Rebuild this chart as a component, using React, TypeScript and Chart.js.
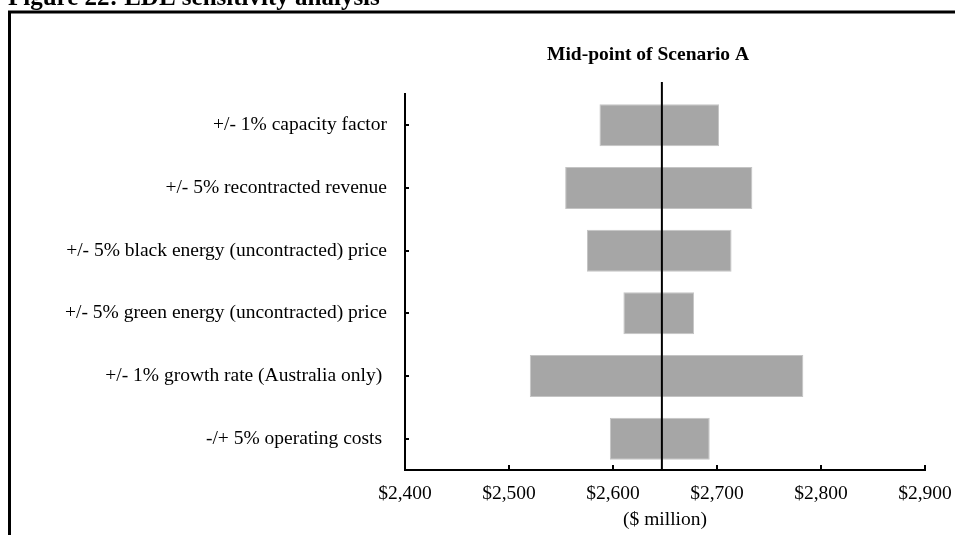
import React, { useEffect, useRef } from 'react';
import { Chart, registerables } from 'chart.js';

Chart.register(...registerables);

const FIGURE_TITLE = 'Figure 22: EDL sensitivity analysis';
const MIDPOINT_LABEL = 'Mid-point of Scenario A';
const X_AXIS_TITLE = '($ million)';

const CATEGORIES = [
  '+/- 1% capacity factor',
  '+/- 5% recontracted revenue',
  '+/- 5% black energy (uncontracted) price',
  '+/- 5% green energy (uncontracted) price',
  '+/- 1% growth rate (Australia only) ',
  '-/+ 5% operating costs ',
];
const LOW_VALUES = [2587, 2554, 2575, 2610, 2520, 2597];
const HIGH_VALUES = [2702, 2734, 2714, 2678, 2783, 2693];
const MIDPOINT = 2647;

const X_MIN = 2400;
const X_MAX = 2900;
const X_STEP = 100;

const FONT = '"Liberation Serif", "Times New Roman", serif';

const overlayPlugin = {
  id: 'overlay',
  beforeDraw(chart: any) {
    const ctx = chart.ctx;
    ctx.save();
    ctx.strokeStyle = '#000';
    ctx.lineWidth = 3;
    ctx.strokeRect(9.5, 12, 3000, 3000);
    ctx.fillStyle = '#000';
    ctx.font = 'bold 25px ' + FONT;
    ctx.textAlign = 'left';
    ctx.textBaseline = 'alphabetic';
    ctx.fillText(FIGURE_TITLE, 8, 5);
    ctx.restore();
  },
  afterDatasetsDraw(chart: any) {
    const ctx = chart.ctx;
    const xs = chart.scales.x;
    const area = chart.chartArea;
    const mx = xs.getPixelForValue(MIDPOINT);
    ctx.save();
    ctx.strokeStyle = '#000';
    ctx.lineWidth = 2;
    ctx.beginPath();
    ctx.moveTo(mx, 82);
    ctx.lineTo(mx, area.bottom);
    ctx.stroke();
    ctx.fillStyle = '#000';
    ctx.font = 'bold 19.5px ' + FONT;
    ctx.textAlign = 'center';
    ctx.textBaseline = 'middle';
    ctx.fillText(MIDPOINT_LABEL, 648, 55);
    ctx.restore();
  },
  afterDraw(chart: any) {
    const ctx = chart.ctx;
    const { x: xs, y: ys } = chart.scales;
    const area = chart.chartArea;
    ctx.save();
    ctx.strokeStyle = '#000';
    ctx.lineWidth = 2;
    ctx.beginPath();
    xs.ticks.forEach((_t: any, i: number) => {
      const px = Math.round(xs.getPixelForTick(i));
      ctx.moveTo(px, area.bottom);
      ctx.lineTo(px, area.bottom - 5);
    });
    ys.ticks.forEach((_t: any, i: number) => {
      const py = Math.round(ys.getPixelForTick(i));
      ctx.moveTo(area.left, py);
      ctx.lineTo(area.left + 4, py);
    });
    ctx.stroke();
    ctx.restore();
  },
};

export default function App() {
  const canvasRef = useRef<HTMLCanvasElement | null>(null);

  useEffect(() => {
    const canvas = canvasRef.current;
    if (!canvas) return;
    const chart = new Chart(canvas, {
      type: 'bar',
      data: {
        labels: CATEGORIES,
        datasets: [
          {
            data: CATEGORIES.map((_, i) => [LOW_VALUES[i], HIGH_VALUES[i]]) as any,
            backgroundColor: '#a6a6a6',
            borderColor: '#c4c4c4',
            borderWidth: 1,
            borderSkipped: false,
            categoryPercentage: 1,
            barPercentage: 0.67,
          },
        ],
      },
      options: {
        indexAxis: 'y',
        responsive: false,
        animation: false,
        devicePixelRatio: 1,
        layout: { padding: { left: 0, top: 94, right: 30, bottom: 0 } },
        plugins: {
          legend: { display: false },
          tooltip: { enabled: false },
          title: { display: false },
        },
        scales: {
          x: {
            type: 'linear',
            min: X_MIN,
            max: X_MAX,
            grid: { display: false, drawTicks: false },
            border: { display: true, color: '#000', width: 2 },
            ticks: {
              stepSize: X_STEP,
              padding: 12,
              color: '#000',
              font: { family: FONT, size: 19.5 },
              callback: (v: any) => '$' + Number(v).toLocaleString('en-US'),
            },
            title: {
              display: true,
              text: X_AXIS_TITLE,
              color: '#000',
              font: { family: FONT, size: 19.5 },
              padding: { top: 0, bottom: 3 },
            },
            afterFit: (scale: any) => {
              scale.height = 65;
              scale.paddingLeft = 0;
              scale.paddingRight = 0;
            },
          },
          y: {
            type: 'category',
            grid: { display: false, drawTicks: false },
            border: { display: true, color: '#000', width: 2 },
            ticks: {
              padding: 18,
              color: '#000',
              font: { family: FONT, size: 19.5 },
            },
            afterFit: (scale: any) => {
              scale.width = 405;
              scale.paddingTop = 0;
              scale.paddingBottom = 0;
            },
          },
        },
      },
      plugins: [overlayPlugin],
    });
    return () => chart.destroy();
  }, []);

  return (
    <div style={{ position: 'absolute', left: 0, top: 0, width: 955, height: 535, background: '#fff' }}>
      <canvas ref={canvasRef} width={955} height={535} style={{ display: 'block' }} />
    </div>
  );
}
